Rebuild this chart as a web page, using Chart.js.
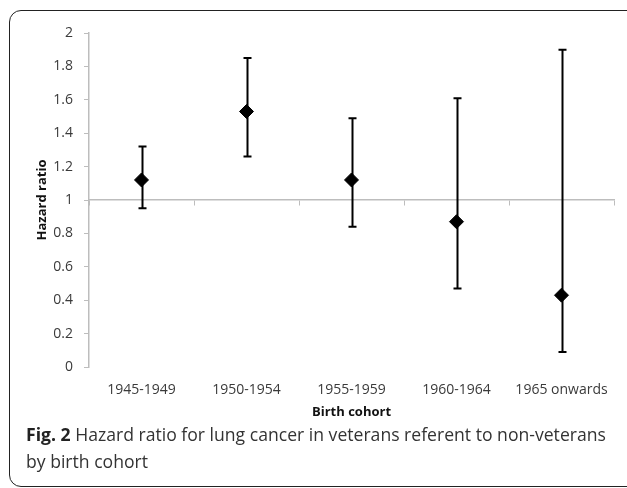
<!DOCTYPE html>
<html>
<head>
<meta charset="utf-8">
<title>Hazard ratio by birth cohort</title>
<script src="https://cdn.jsdelivr.net/npm/chart.js"></script>
<style>
  html, body { margin: 0; padding: 0; background: #fff; }
  body { width: 627px; height: 488px; position: relative; overflow: hidden; }
  #frame {
    position: absolute; left: 9px; top: 10px; width: 640px; height: 477px;
    border: 1.5px solid #222; border-radius: 12px; box-sizing: border-box;
  }
  #chart-box { position: absolute; left: 0; top: 0; width: 627px; height: 425px; }
  #caption {
    position: absolute; left: 26px; top: 421px; width: 600px; white-space: nowrap;
    font-family: "Open Sans", sans-serif; font-size: 17.6px; line-height: 27px; color: #333;
  }
  #caption b { color: #222; }
</style>
</head>
<body>
<div id="frame"></div>
<div id="chart-box"><canvas id="hrChart" width="627" height="425"></canvas></div>
<div id="caption"><b>Fig. 2</b> Hazard ratio for lung cancer in veterans referent to non-veterans<br>by birth cohort</div>
<script>
// Values
const cohorts = ['1945-1949', '1950-1954', '1955-1959', '1960-1964', '1965 onwards'];
const hazardRatio = [1.12, 1.53, 1.12, 0.87, 0.43];
const ciLower = [0.95, 1.26, 0.84, 0.47, 0.09];
const ciUpper = [1.32, 1.85, 1.49, 1.61, 1.90];

const AXIS_GREY = '#bdbdbd';
const TICK_FONT = { family: 'Open Sans', size: 14 };

// Draw the confidence interval whiskers behind the diamonds
const errorBars = {
  id: 'errorBars',
  beforeDatasetsDraw(chart) {
    const { ctx, scales: { x, y } } = chart;
    ctx.save();
    ctx.strokeStyle = '#000';
    ctx.lineWidth = 2;
    cohorts.forEach((c, i) => {
      const px = Math.round(x.getPixelForValue(i)) + 0.5;
      const top = y.getPixelForValue(ciUpper[i]);
      const bot = y.getPixelForValue(ciLower[i]);
      ctx.beginPath();
      ctx.moveTo(px, top); ctx.lineTo(px, bot);
      ctx.moveTo(px - 4, top); ctx.lineTo(px + 4, top);
      ctx.moveTo(px - 4, bot); ctx.lineTo(px + 4, bot);
      ctx.stroke();
    });
    ctx.restore();
  }
};

new Chart(document.getElementById('hrChart'), {
  type: 'line',
  data: {
    labels: cohorts,
    datasets: [{
      data: hazardRatio,
      showLine: false,
      pointStyle: 'rectRot',
      pointRadius: 7,
      pointHoverRadius: 7,
      backgroundColor: '#000',
      borderColor: '#000',
      borderWidth: 1
    }]
  },
  options: {
    responsive: false,
    animation: false,
    layout: { padding: { top: 33, right: 13, bottom: 0, left: 0 } },
    plugins: { legend: { display: false }, tooltip: { enabled: false } },
    scales: {
      x: {
        type: 'category',
        position: 'bottom',
        offset: true,
        grid: { display: false, drawTicks: false },
        border: { display: false },
        ticks: { color: '#3a3a3a', font: TICK_FONT, padding: 15, maxRotation: 0 },
        title: {
          display: true, text: 'Birth cohort', color: '#111',
          font: { family: 'Open Sans', size: 13, weight: 'bold' },
          padding: { top: 0, bottom: 5 }
        },
        afterFit(scale) { scale.height = 58; }
      },
      xLine: {
        type: 'category',
        axis: 'x',
        position: { y: 1 },
        offset: true,
        grid: { drawOnChartArea: false, drawTicks: true, tickLength: 5, offset: true, color: AXIS_GREY, lineWidth: 1 },
        border: { display: true, color: AXIS_GREY, width: 1.5 },
        ticks: { display: false }
      },
      y: {
        min: 0,
        max: 2,
        ticks: {
          stepSize: 0.2, color: '#3a3a3a', font: TICK_FONT, padding: 11,
          callback: v => String(+v.toFixed(1))
        },
        grid: { drawOnChartArea: false, drawTicks: true, tickLength: 5, color: AXIS_GREY },
        border: { display: true, color: AXIS_GREY, width: 1.5 },
        title: {
          display: true, text: 'Hazard ratio', color: '#111',
          font: { family: 'Open Sans', size: 13, weight: 'bold' },
          padding: { top: 34, bottom: 0 }
        },
        afterFit(scale) { scale.width = 89; }
      }
    }
  },
  plugins: [errorBars]
});
</script>
</body>
</html>
